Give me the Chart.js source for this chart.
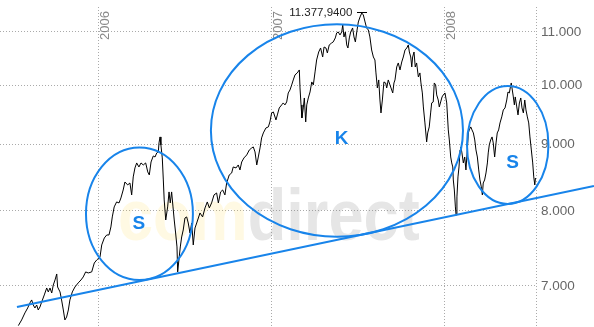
<!DOCTYPE html>
<html><head><meta charset="utf-8">
<script src="https://cdn.jsdelivr.net/npm/chart.js@4.4.0/dist/chart.umd.min.js"></script>
<style>html,body{margin:0;padding:0;background:#fff;overflow:hidden}#wrap{width:594px;height:327px;position:relative}</style>
</head><body><div id="wrap"><canvas id="c"></canvas></div>
<script>
// dates as decimal years
const dates = [
2005.534,2005.553,2005.572,2005.588,2005.601,2005.611,2005.620,2005.630,2005.640,2005.649,
2005.659,2005.669,2005.684,2005.698,2005.707,2005.717,2005.727,2005.736,2005.746,2005.756,
2005.761,2005.775,2005.784,2005.794,2005.803,2005.813,2005.823,2005.832,2005.846,2005.861,
2005.880,2005.896,2005.909,2005.923,2005.938,2005.958,2005.973,2005.987,2006.006,2006.016,
2006.031,2006.045,2006.058,2006.069,2006.077,2006.088,2006.102,2006.116,2006.127,2006.140,
2006.150,2006.166,2006.179,2006.189,2006.198,2006.208,2006.218,2006.231,2006.243,2006.256,
2006.270,2006.282,2006.291,2006.301,2006.314,2006.324,2006.334,2006.343,2006.347,2006.353,
2006.358,2006.366,2006.372,2006.377,2006.386,2006.397,2006.405,2006.412,2006.420,2006.428,
2006.435,2006.443,2006.451,2006.455,2006.462,2006.470,2006.478,2006.487,2006.497,2006.507,
2006.516,2006.526,2006.536,2006.545,2006.555,2006.565,2006.584,2006.599,2006.613,2006.626,
2006.638,2006.651,2006.665,2006.680,2006.690,2006.703,2006.715,2006.728,2006.738,2006.753,
2006.767,2006.776,2006.792,2006.805,2006.815,2006.825,2006.838,2006.854,2006.869,2006.883,
2006.892,2006.902,2006.912,2006.921,2006.931,2006.940,2006.950,2006.965,2006.979,2006.988,
2006.998,2007.008,2007.023,2007.031,2007.042,2007.056,2007.065,2007.075,2007.085,2007.094,
2007.104,2007.114,2007.123,2007.133,2007.146,2007.158,2007.162,2007.168,2007.173,2007.181,
2007.187,2007.195,2007.201,2007.210,2007.220,2007.230,2007.239,2007.249,2007.258,2007.270,
2007.281,2007.293,2007.301,2007.312,2007.320,2007.331,2007.345,2007.354,2007.366,2007.374,
2007.383,2007.393,2007.403,2007.409,2007.416,2007.424,2007.432,2007.439,2007.447,2007.455,
2007.466,2007.474,2007.482,2007.490,2007.499,2007.509,2007.519,2007.528,2007.538,2007.547,
2007.557,2007.566,2007.576,2007.586,2007.595,2007.601,2007.609,2007.617,2007.624,2007.630,
2007.638,2007.647,2007.657,2007.663,2007.672,2007.682,2007.692,2007.698,2007.705,2007.711,
2007.721,2007.730,2007.740,2007.750,2007.759,2007.769,2007.779,2007.788,2007.794,2007.802,
2007.808,2007.813,2007.821,2007.828,2007.836,2007.846,2007.855,2007.861,2007.869,2007.875,
2007.884,2007.894,2007.900,2007.909,2007.917,2007.923,2007.932,2007.938,2007.946,2007.952,
2007.961,2007.967,2007.975,2007.983,2007.990,2008.000,2008.010,2008.019,2008.025,2008.033,
2008.039,2008.045,2008.048,2008.054,2008.060,2008.064,2008.069,2008.075,2008.081,2008.087,
2008.092,2008.098,2008.106,2008.114,2008.121,2008.129,2008.135,2008.140,2008.149,2008.156,
2008.164,2008.172,2008.179,2008.187,2008.195,2008.202,2008.210,2008.216,2008.221,2008.229,
2008.237,2008.245,2008.250,2008.256,2008.264,2008.272,2008.279,2008.287,2008.295,2008.302,
2008.310,2008.318,2008.328,2008.337,2008.347,2008.357,2008.364,2008.372,2008.377,2008.383,
2008.389,2008.395,2008.401,2008.406,2008.415,2008.422,2008.430,2008.438,2008.445,2008.453,
2008.461,2008.468,2008.476,2008.484,2008.491,2008.499,2008.507,2008.513,2008.519,2008.523
];
const values = [
6523,6589,6672,6731,6792,6828,6767,6731,6767,6707,
6743,6804,6889,6975,6926,6975,6913,7012,7075,7151,
6987,6926,6828,6707,6589,6624,6707,6828,6926,6987,
7038,7075,7113,7177,7164,7177,7292,7331,7371,7530,
7624,7665,7665,7775,7915,8057,8129,8115,8187,8304,
8423,8379,8408,8231,8499,8636,8713,8651,8713,8682,
8713,8575,8529,8728,8822,8806,8870,8885,9029,9126,
8997,8791,8453,8158,7872,8057,8275,8115,8275,8057,
7872,7692,7503,7177,7331,7503,7638,7733,7900,7915,
7830,7692,7830,7530,7761,7830,7971,7915,8043,8129,
8043,8115,8231,8260,8115,8275,8304,8231,8408,8529,
8559,8651,8636,8682,8605,8728,8791,8838,8917,8949,
8965,8885,8682,8806,8949,9110,9191,9273,9290,9373,
9524,9541,9406,9490,9609,9661,9695,9661,9712,9869,
9921,10011,10100,10191,10227,10281,9957,9661,9440,9609,
9781,9373,9661,9781,9886,10064,10011,10245,10465,10615,
10691,10521,10710,10691,10597,10749,10787,10807,10884,10981,
11000,10942,11000,11139,10903,11000,10749,10691,10884,11000,
11079,10903,10807,11000,11198,11298,11377.94,11338,11198,11079,
11039,10903,10653,10521,10465,10227,9957,10100,9746,9524,
9746,10064,10046,9957,10100,10011,9921,9869,10046,10100,
10336,10410,10281,10428,10521,10653,10691,10749,10615,10521,
10336,10521,10615,10336,10410,10154,10227,10046,9869,9626,
9356,9045,9191,9290,9524,9695,9712,10046,10011,9834,
9746,9626,9712,9799,9834,9869,9695,9240,9077,8806,
8713,8651,8453,8304,8057,7943,8202,8499,8651,8917,
8965,8870,8713,8806,8605,8917,9191,9240,9290,9240,
9191,9077,8917,8806,8605,8453,8349,8231,8408,8453,
8559,8713,8870,8997,9077,9126,9029,8806,9029,9191,
9240,9356,9457,9575,9609,9746,9886,9869,9957,10046,
9921,9799,9661,9799,9626,9490,9695,9781,9609,9524,
9746,9575,9457,9356,9126,8917,8713,8499,8379,8483
];
const yearTicks = [2006, 2007, 2008];
const priceTicks = [7000, 8000, 9000, 10000, 11000];
const xMin = 2005.428, xMax = 2008.526;
const yMin = 6507, yMax = 11500;
// hand-drawn annotations, in data coordinates
const trendStart = [2005.526, 6743];
const trendEnd = [2008.861, 8363];
const ovalLabels = ['S', 'K', 'S'];
const ovalDates = [[2005.925, 2006.543], [2006.647, 2008.104], [2008.127, 2008.598]];
const ovalValues = [[7075, 8957], [7642, 11152], [8100, 9993]];
const labelAt = [[2006.231, 7816], [2007.402, 9093], [2008.390, 8721]];

const dots = s => s.replace(/\B(?=(\d{3})+(?!\d))/g, '.');
const fmtInt = v => dots(Math.round(v).toString());
const fmtPeak = v => { const p = v.toFixed(4).split('.'); return dots(p[0]) + ',' + p[1]; };

const FONT = '"Liberation Sans", Arial, sans-serif';
const BLUE = '#1884ea';

const annot = {
  id: 'annot',
  beforeDatasetsDraw(chart) {
    const {ctx, chartArea: a} = chart;
    ctx.save();
    ctx.font = 'bold 72px ' + FONT;
    const w1 = ctx.measureText('com').width, w2 = ctx.measureText('direct').width;
    const targetW = a.width * 0.563;
    const sx = targetW / (w1 + w2);
    ctx.translate(a.left + a.width * 0.22, a.top + a.height * 0.728);
    ctx.scale(sx, 1);
    ctx.textBaseline = 'alphabetic';
    ctx.fillStyle = 'rgba(255,205,40,0.13)';
    ctx.fillText('com', 0, 0);
    ctx.fillStyle = 'rgba(128,128,128,0.2)';
    ctx.fillText('direct', w1, 0);
    ctx.restore();
  },
  afterDatasetsDraw(chart) {
    const {ctx, chartArea: a, scales: {x, y}} = chart;
    ctx.save();
    // year labels
    ctx.font = '13px ' + FONT;
    ctx.fillStyle = '#888';
    ctx.textAlign = 'right';
    ctx.textBaseline = 'alphabetic';
    yearTicks.forEach(yr => {
      const px = x.getPixelForValue(yr);
      ctx.save();
      ctx.translate(px + 10.5, a.top + 4);
      ctx.rotate(-Math.PI / 2);
      ctx.fillText(String(yr), 0, 0);
      ctx.restore();
    });
    // peak annotation
    let mi = 0;
    values.forEach((v, i) => { if (v > values[mi]) mi = i; });
    const mx = x.getPixelForValue(dates[mi]), my = y.getPixelForValue(values[mi]);
    ctx.strokeStyle = '#000'; ctx.lineWidth = 1;
    ctx.beginPath();
    ctx.moveTo(Math.round(mx) - 5, Math.round(my) - 0.5);
    ctx.lineTo(Math.round(mx) + 5, Math.round(my) - 0.5);
    ctx.stroke();
    ctx.font = '11.5px ' + FONT;
    ctx.fillStyle = '#222';
    ctx.textAlign = 'right';
    ctx.fillText(fmtPeak(values[mi]), mx - 9.5, my + 3.5);
    // trend line
    ctx.strokeStyle = BLUE; ctx.lineWidth = 2;
    ctx.beginPath();
    ctx.moveTo(x.getPixelForValue(trendStart[0]), y.getPixelForValue(trendStart[1]));
    ctx.lineTo(x.getPixelForValue(trendEnd[0]), y.getPixelForValue(trendEnd[1]));
    ctx.stroke();
    // ovals and letters
    ovalLabels.forEach((lab, i) => {
      const x1 = x.getPixelForValue(ovalDates[i][0]), x2 = x.getPixelForValue(ovalDates[i][1]);
      const y1 = y.getPixelForValue(ovalValues[i][1]), y2 = y.getPixelForValue(ovalValues[i][0]);
      ctx.beginPath();
      ctx.ellipse((x1 + x2) / 2, (y1 + y2) / 2, (x2 - x1) / 2, (y2 - y1) / 2, 0, 0, Math.PI * 2);
      ctx.stroke();
      ctx.font = 'bold 19px ' + FONT;
      ctx.fillStyle = BLUE;
      ctx.textAlign = 'center';
      ctx.textBaseline = 'middle';
      ctx.fillText(lab, x.getPixelForValue(labelAt[i][0]), y.getPixelForValue(labelAt[i][1]));
    });
    ctx.restore();
  }
};

new Chart(document.getElementById('c'), {
  type: 'line',
  data: {
    datasets: [{
      data: dates.map((d, i) => ({x: d, y: values[i]})),
      borderColor: '#000', borderWidth: 1, pointRadius: 0, tension: 0, fill: false
    }]
  },
  options: {
    responsive: true, maintainAspectRatio: false, animation: false, devicePixelRatio: 1,
    layout: {padding: {top: 7, left: 0, right: 0, bottom: 0}},
    plugins: {legend: {display: false}, tooltip: {enabled: false}},
    scales: {
      x: {
        type: 'linear', min: xMin, max: xMax,
        afterBuildTicks: s => { s.ticks = yearTicks.concat([xMax]).map(v => ({value: v})); },
        afterFit: s => { s.height = 0; s.paddingLeft = 0; s.paddingRight = 0; },
        ticks: {display: false},
        grid: {color: '#aaa', lineWidth: 1, drawTicks: false},
        border: {display: false, dash: [1, 2]}
      },
      y: {
        type: 'logarithmic', position: 'right', min: yMin, max: yMax,
        afterBuildTicks: s => { s.ticks = priceTicks.map(v => ({value: v})); },
        afterFit: s => { s.width = 58; s.paddingTop = 0; s.paddingBottom = 0; },
        ticks: {callback: v => fmtInt(v), color: '#666', padding: 5, font: {family: FONT, size: 13.5}},
        grid: {color: '#aaa', lineWidth: 1, drawTicks: false},
        border: {display: false, dash: [1, 2]}
      }
    }
  },
  plugins: [annot]
});
</script></body></html>
